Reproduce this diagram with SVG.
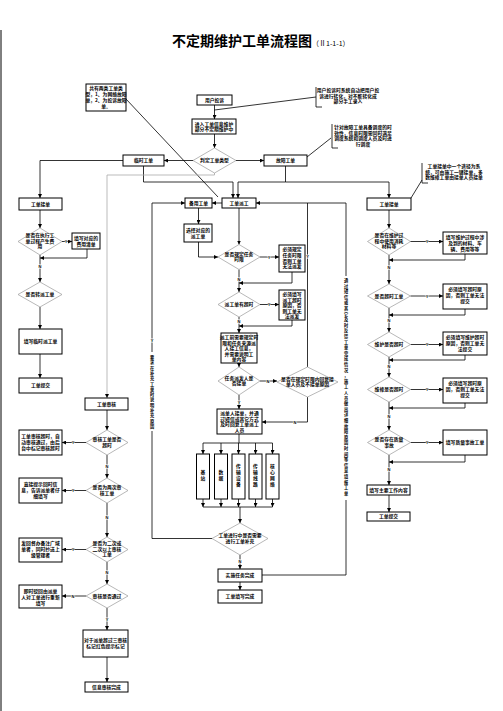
<svg xmlns="http://www.w3.org/2000/svg" width="503" height="711" viewBox="0 0 503 711">
<defs>
<marker id="ah" markerUnits="userSpaceOnUse" markerWidth="4" markerHeight="4" refX="4" refY="2" orient="auto"><path d="M0,0 L4,2 L0,4 z" fill="#000"/></marker>
<style>
.box{fill:#fff;stroke:#000;stroke-width:1}
.dia{fill:#fff;stroke:#999;stroke-width:0.7}
.ln{fill:none;stroke:#000;stroke-width:0.8}
.gl{fill:none;stroke:#aaa;stroke-width:0.8}
.t{font-family:"Noto Sans CJK SC","Noto Sans CJK JP",sans-serif;font-size:4.8px;font-weight:bold;text-anchor:middle;fill:#000}
.v{font-family:"Noto Sans CJK SC","Noto Sans CJK JP",sans-serif;font-size:4.2px;font-weight:bold;text-anchor:middle;fill:#000}
.lb{font-family:"Liberation Sans",sans-serif;font-size:4px;font-weight:bold;text-anchor:middle;fill:#000;stroke:#fff;stroke-width:1.2px;paint-order:stroke}
</style>
</defs>
<rect width="503" height="711" fill="#fff"/>
<line x1="1" y1="30" x2="1" y2="711" stroke="#000" stroke-width="1"/>
<g id="title">
<text x="172" y="46" style="font-family:'Noto Sans CJK SC',sans-serif;font-size:14px;font-weight:bold;fill:#000">不定期维护工单流程图<tspan style="font-size:7px;font-weight:normal">（Ⅱ1-1-1）</tspan></text>
</g>

<g id="connectors">
<line class="ln" x1="214.5" y1="105" x2="214.5" y2="119" marker-end="url(#ah)"/>
<line class="ln" x1="214.5" y1="134" x2="214.5" y2="148" marker-end="url(#ah)"/>
<line class="ln" x1="193" y1="160.5" x2="164" y2="160.5" marker-end="url(#ah)"/>
<line class="ln" x1="236" y1="160.5" x2="264" y2="160.5" marker-end="url(#ah)"/>
<line class="ln" x1="126" y1="99" x2="218" y2="197" stroke-width="0.6"/>
<line class="ln" x1="214.5" y1="110" x2="316" y2="97" stroke-width="0.6"/>
<line class="ln" x1="307" y1="157" x2="331" y2="138" stroke-width="0.6"/>
<line class="ln" x1="422" y1="180" x2="411" y2="198" stroke-width="0.6"/>
<polyline class="ln" points="123,160.5 40,160.5 40,198" marker-end="url(#ah)"/>
<polyline class="ln" points="143.5,166 143.5,182 233,182 233,198" marker-end="url(#ah)"/>
<polyline class="ln" points="285.5,166 285.5,182 238,182 238,198" marker-end="url(#ah)"/>
<polyline class="ln" points="285.5,182 389,182 389,198" marker-end="url(#ah)"/>
<polyline class="gl" points="214.5,173 214.5,175 107,175 107,398" marker-end="url(#ah)"/>
<line class="ln" x1="40" y1="210" x2="40" y2="228" marker-end="url(#ah)"/>
<line class="ln" x1="62" y1="241.5" x2="72" y2="241.5" marker-end="url(#ah)"/>
<polyline class="ln" points="87,249 87,258 40,258" marker-end="url(#ah)"/>
<line class="ln" x1="40" y1="255" x2="40" y2="282" marker-end="url(#ah)"/>
<line class="ln" x1="40" y1="307" x2="40" y2="329" marker-end="url(#ah)"/>
<line class="ln" x1="40" y1="354" x2="40" y2="378" marker-end="url(#ah)"/>
<line class="ln" x1="107" y1="410" x2="107" y2="430" marker-end="url(#ah)"/>
<line class="ln" x1="86" y1="442.5" x2="62" y2="442.5" marker-end="url(#ah)"/>
<line class="ln" x1="107" y1="455" x2="107" y2="478" marker-end="url(#ah)"/>
<line class="ln" x1="86" y1="490.5" x2="62" y2="490.5" marker-end="url(#ah)"/>
<line class="ln" x1="107" y1="503" x2="107" y2="537" marker-end="url(#ah)"/>
<line class="ln" x1="86" y1="549.5" x2="62" y2="549.5" marker-end="url(#ah)"/>
<line class="ln" x1="107" y1="562" x2="107" y2="584" marker-end="url(#ah)"/>
<line class="ln" x1="86" y1="596" x2="62" y2="596" marker-end="url(#ah)"/>
<line class="ln" x1="107" y1="608" x2="107" y2="630" marker-end="url(#ah)"/>
<line class="ln" x1="107" y1="657" x2="107" y2="682" marker-end="url(#ah)"/>
<line class="ln" x1="222" y1="203" x2="212" y2="203" marker-end="url(#ah)"/>
<line class="ln" x1="198.5" y1="208" x2="198.5" y2="224" marker-end="url(#ah)"/>
<polyline class="ln" points="198.5,242 198.5,257 218,257" marker-end="url(#ah)"/>
<line class="ln" x1="239" y1="208" x2="239" y2="244.5" marker-end="url(#ah)"/>
<line class="ln" x1="260" y1="257" x2="279" y2="257" marker-end="url(#ah)"/>
<polyline class="ln" points="292,272 292,283 239,283" marker-end="url(#ah)"/>
<line class="ln" x1="239" y1="269.5" x2="239" y2="292" marker-end="url(#ah)"/>
<line class="ln" x1="260" y1="304.5" x2="279" y2="304.5" marker-end="url(#ah)"/>
<polyline class="ln" points="292,320 292,326 239,326" marker-end="url(#ah)"/>
<line class="ln" x1="239" y1="317" x2="239" y2="333" marker-end="url(#ah)"/>
<line class="ln" x1="239" y1="363" x2="239" y2="367" marker-end="url(#ah)"/>
<line class="ln" x1="260" y1="381" x2="277" y2="381" marker-end="url(#ah)"/>
<polyline class="ln" points="307.5,367 307.5,203"/>
<polyline class="ln" points="307.5,397 307.5,422 262,422" marker-end="url(#ah)"/>
<line class="ln" x1="239" y1="395" x2="239" y2="409" marker-end="url(#ah)"/>
<line class="ln" x1="239" y1="434" x2="239" y2="443"/>
<line class="ln" x1="203" y1="443" x2="272.5" y2="443"/>
<line class="ln" x1="203" y1="443" x2="203" y2="454" marker-end="url(#ah)"/>
<line class="ln" x1="221" y1="443" x2="221" y2="454" marker-end="url(#ah)"/>
<line class="ln" x1="238.5" y1="443" x2="238.5" y2="454" marker-end="url(#ah)"/>
<line class="ln" x1="255.5" y1="443" x2="255.5" y2="454" marker-end="url(#ah)"/>
<line class="ln" x1="272.5" y1="443" x2="272.5" y2="454" marker-end="url(#ah)"/>
<line class="ln" x1="203" y1="499" x2="203" y2="507" marker-end="url(#ah)"/>
<line class="ln" x1="221" y1="499" x2="221" y2="507" marker-end="url(#ah)"/>
<line class="ln" x1="238.5" y1="499" x2="238.5" y2="507" marker-end="url(#ah)"/>
<line class="ln" x1="255.5" y1="499" x2="255.5" y2="507" marker-end="url(#ah)"/>
<line class="ln" x1="272.5" y1="499" x2="272.5" y2="507" marker-end="url(#ah)"/>
<line class="ln" x1="203" y1="507" x2="272.5" y2="507"/>
<line class="ln" x1="240" y1="507" x2="240" y2="523" marker-end="url(#ah)"/>
<polyline class="ln" points="212,538.5 152,538.5 152,431"/>
<polyline class="ln" points="152,352 152,203 185,203" marker-end="url(#ah)"/>
<line class="ln" x1="240" y1="555" x2="240" y2="569" marker-end="url(#ah)"/>
<line class="ln" x1="240" y1="582" x2="240" y2="590" marker-end="url(#ah)"/>
<polyline class="ln" points="262,575 346,575 346,500"/>
<polyline class="ln" points="346,276 346,203 256,203" marker-end="url(#ah)"/>
<line class="ln" x1="389" y1="210" x2="389" y2="228" marker-end="url(#ah)"/>
<line class="ln" x1="410" y1="241.5" x2="443" y2="241.5" marker-end="url(#ah)"/>
<polyline class="ln" points="465,254 465,260 389,260" marker-end="url(#ah)"/>
<line class="ln" x1="389" y1="255" x2="389" y2="284" marker-end="url(#ah)"/>
<line class="ln" x1="410.5" y1="296" x2="443" y2="296" marker-end="url(#ah)"/>
<polyline class="ln" points="465,309 465,315 389,315" marker-end="url(#ah)"/>
<line class="ln" x1="389" y1="308" x2="389" y2="332" marker-end="url(#ah)"/>
<line class="ln" x1="410.5" y1="344.5" x2="443" y2="344.5" marker-end="url(#ah)"/>
<polyline class="ln" points="465,355 465,360 389,360" marker-end="url(#ah)"/>
<line class="ln" x1="389" y1="357" x2="389" y2="377" marker-end="url(#ah)"/>
<line class="ln" x1="410.5" y1="389.5" x2="443" y2="389.5" marker-end="url(#ah)"/>
<polyline class="ln" points="465,403 465,408 389,408" marker-end="url(#ah)"/>
<line class="ln" x1="389" y1="402" x2="389" y2="430" marker-end="url(#ah)"/>
<line class="ln" x1="410.5" y1="442.5" x2="443" y2="442.5" marker-end="url(#ah)"/>
<polyline class="ln" points="465,455 465,462 389,462" marker-end="url(#ah)"/>
<line class="ln" x1="389" y1="455" x2="389" y2="485" marker-end="url(#ah)"/>
<line class="ln" x1="389" y1="495" x2="389" y2="512" marker-end="url(#ah)"/>
<text class="lb" x="66" y="243">Y</text>
<text class="lb" x="40" y="268">N</text>
<text class="lb" x="73" y="444">Y</text>
<text class="lb" x="107" y="468">N</text>
<text class="lb" x="73" y="492">Y</text>
<text class="lb" x="107" y="519">N</text>
<text class="lb" x="73" y="551">Y</text>
<text class="lb" x="107" y="574">N</text>
<text class="lb" x="73" y="597.5">N</text>
<text class="lb" x="107" y="621">Y</text>
<text class="lb" x="269" y="258.5">Y</text>
<text class="lb" x="239" y="281">N</text>
<text class="lb" x="269" y="306">Y</text>
<text class="lb" x="239" y="323">N</text>
<text class="lb" x="268" y="382.5">N</text>
<text class="lb" x="307.5" y="258">Y</text>
<text class="lb" x="295" y="423.5">N</text>
<text class="lb" x="239" y="404">Y</text>
<text class="lb" x="240" y="563">N</text>
<text class="lb" x="152" y="342">Y</text>
<text class="lb" x="427" y="243">Y</text>
<text class="lb" x="389" y="269">N</text>
<text class="lb" x="427" y="297.5">Y</text>
<text class="lb" x="389" y="322">N</text>
<text class="lb" x="427" y="346">Y</text>
<text class="lb" x="389" y="368">N</text>
<text class="lb" x="427" y="391">Y</text>
<text class="lb" x="389" y="418">N</text>
<text class="lb" x="427" y="444">Y</text>
<text class="lb" x="389" y="471">N</text>
<text class="v" x="152" y="359"><tspan x="152">要</tspan><tspan x="152" dy="5.3">求</tspan><tspan x="152" dy="5.3">在</tspan><tspan x="152" dy="5.3">补</tspan><tspan x="152" dy="5.3">充</tspan><tspan x="152" dy="5.3">工</tspan><tspan x="152" dy="5.3">单</tspan><tspan x="152" dy="5.3">时</tspan><tspan x="152" dy="5.3">说</tspan><tspan x="152" dy="5.3">明</tspan><tspan x="152" dy="5.3">补</tspan><tspan x="152" dy="5.3">充</tspan><tspan x="152" dy="5.3">原</tspan><tspan x="152" dy="5.3">因</tspan></text>
<text class="v" x="346" y="282"><tspan x="346">通</tspan><tspan x="346" dy="5.6">过</tspan><tspan x="346" dy="5.6">短</tspan><tspan x="346" dy="5.6">信</tspan><tspan x="346" dy="5.6">或</tspan><tspan x="346" dy="5.6">其</tspan><tspan x="346" dy="5.6">它</tspan><tspan x="346" dy="5.6">及</tspan><tspan x="346" dy="5.6">时</tspan><tspan x="346" dy="5.6">反</tspan><tspan x="346" dy="5.6">馈</tspan><tspan x="346" dy="5.6">工</tspan><tspan x="346" dy="5.6">单</tspan><tspan x="346" dy="5.6">完</tspan><tspan x="346" dy="5.6">成</tspan><tspan x="346" dy="5.6">情</tspan><tspan x="346" dy="5.6">况</tspan><tspan x="346" dy="5.6">，</tspan><tspan x="346" dy="5.6">施</tspan><tspan x="346" dy="5.6">工</tspan><tspan x="346" dy="5.6">人</tspan><tspan x="346" dy="5.6">员</tspan><tspan x="346" dy="5.6">做</tspan><tspan x="346" dy="5.6">出</tspan><tspan x="346" dy="5.6">详</tspan><tspan x="346" dy="5.6">细</tspan><tspan x="346" dy="5.6">故</tspan><tspan x="346" dy="5.6">障</tspan><tspan x="346" dy="5.6">原</tspan><tspan x="346" dy="5.6">因</tspan><tspan x="346" dy="5.6">时</tspan><tspan x="346" dy="5.6">间</tspan><tspan x="346" dy="5.6">等</tspan><tspan x="346" dy="5.6">信</tspan><tspan x="346" dy="5.6">息</tspan><tspan x="346" dy="5.6">填</tspan><tspan x="346" dy="5.6">报</tspan><tspan x="346" dy="5.6">工</tspan><tspan x="346" dy="5.6">单</tspan></text>
</g>

<g id="note-types"><rect class="box" x="86" y="84" width="40" height="27"/><text class="t"><tspan x="106" y="90">共有两类工单类</tspan><tspan x="106" y="96">型，1、为网络故障</tspan><tspan x="106" y="102">单，2、为投诉故障</tspan><tspan x="106" y="108">单。</tspan></text></g>
<g id="note-complaint"><path class="ln" d="M316,87 V107 H322"/><text class="t"><tspan x="348" y="92">用户投诉时系统自动把用户投</tspan><tspan x="348" y="97.5">诉进行转化，对不能转化成</tspan><tspan x="348" y="103">部分手工录入</tspan></text></g>
<g id="note-fault"><path class="ln" d="M332,124 V148 H338"/><text class="t"><tspan x="363" y="129">针对故障工单具备调度的时</tspan><tspan x="363" y="134.5">效性，信息时限需同时满足</tspan><tspan x="363" y="140">调度系统和调度人员及时进</tspan><tspan x="363" y="145.5">行调度</tspan></text></g>
<g id="note-accept"><path class="ln" d="M422,163 V183 H428"/><text class="t"><tspan x="454" y="168">工单接单中一个途径为系</tspan><tspan x="454" y="173.5">统，可由施工一键接单，多</tspan><tspan x="454" y="179">数维修工单由接单人员接单</tspan></text></g>

<g id="n-user"><rect class="box" x="197" y="95" width="35" height="10"/><text class="t" x="214.5" y="101.8">用户投诉</text></g>
<g id="n-enter"><rect class="box" x="192" y="119" width="44" height="15"/><text class="t"><tspan x="214" y="125.5">进入工单信息维护</tspan><tspan x="214" y="131">部分不定期维护中</tspan></text></g>
<g id="d-type"><polygon class="dia" points="214.5,148 236,160.5 214.5,173 193,160.5"/><text class="t" x="214.5" y="162.2">判定工单类型</text></g>
<g id="n-temp"><rect class="box" x="123" y="155" width="41" height="11"/><text class="t" x="143.5" y="162.2">临时工单</text></g>
<g id="n-fault"><rect class="box" x="264" y="155" width="43" height="11"/><text class="t" x="285.5" y="162.2">故障工单</text></g>

<g id="n-accept-l"><rect class="box" x="19" y="198" width="43" height="12"/><text class="t" x="40.5" y="205.8">工单接单</text></g>
<g id="d-cost"><polygon class="dia" points="40,228 62,241.5 40,255 18,241.5"/><text class="t"><tspan x="40" y="237">是否在执行工</tspan><tspan x="40" y="242.5">单过程产生费</tspan><tspan x="40" y="248">用</tspan></text></g>
<g id="n-cost"><rect class="box" x="72" y="233" width="28" height="16"/><text class="t"><tspan x="86" y="240">填写对应的</tspan><tspan x="86" y="245.5">费用清单</tspan></text></g>
<g id="d-transfer"><polygon class="dia" points="40,282 62,294.5 40,307 18,294.5"/><text class="t" x="40" y="296.2">是否转派工单</text></g>
<g id="n-tempform"><rect class="box" x="19" y="329" width="43" height="25"/><text class="t" x="40.5" y="343.2">填写临时派工单</text></g>
<g id="n-submit-l"><rect class="box" x="19" y="378" width="43" height="15"/><text class="t" x="40.5" y="387.2">工单提交</text></g>

<g id="n-audit"><rect class="box" x="85" y="398" width="43" height="12"/><text class="t" x="106.5" y="405.8">工单审核</text></g>
<g id="d-audit-timeout"><polygon class="dia" points="107,430 128,442.5 107,455 86,442.5"/><text class="t"><tspan x="107" y="441">审核工单是否</tspan><tspan x="107" y="446.5">超时</tspan></text></g>
<g id="n-audit-timeout"><rect class="box" x="19" y="430" width="43" height="25"/><text class="t"><tspan x="40.5" y="437.5">工单审核超时，自</tspan><tspan x="40.5" y="443.5">动审核通过，由后</tspan><tspan x="40.5" y="449.5">台中标记审核超时</tspan></text></g>
<g id="d-twice"><polygon class="dia" points="107,478 128,490.5 107,503 86,490.5"/><text class="t"><tspan x="107" y="489">是否为两次审</tspan><tspan x="107" y="494.5">核工单</tspan></text></g>
<g id="n-twice"><rect class="box" x="19" y="478" width="43" height="25"/><text class="t"><tspan x="40.5" y="485.5">直接提示回时信</tspan><tspan x="40.5" y="491.5">息，告诉派单者仔</tspan><tspan x="40.5" y="497.5">细填写</tspan></text></g>
<g id="d-second"><polygon class="dia" points="107,537 128,549.5 107,562 86,549.5"/><text class="t"><tspan x="107" y="545">是否为二次或</tspan><tspan x="107" y="550.5">二次以上审核</tspan><tspan x="107" y="556">工单</tspan></text></g>
<g id="n-second"><rect class="box" x="19" y="538" width="43" height="24"/><text class="t"><tspan x="40.5" y="545">发回督办备注广域</tspan><tspan x="40.5" y="551">单者，同时抄送上</tspan><tspan x="40.5" y="557">级管理者</tspan></text></g>
<g id="d-pass"><polygon class="dia" points="107,584 128,596 107,608 86,596"/><text class="t" x="107" y="597.7">审核是否通过</text></g>
<g id="n-reject"><rect class="box" x="19" y="585" width="43" height="23"/><text class="t"><tspan x="40.5" y="592.5">即时驳回由派单</tspan><tspan x="40.5" y="598.5">人对工单进行重新</tspan><tspan x="40.5" y="604.5">填写</tspan></text></g>
<g id="n-mark"><rect class="box" x="83" y="630" width="45" height="27"/><text class="t"><tspan x="105.5" y="642">对于派单超过三审核</tspan><tspan x="105.5" y="648">标记红色提示标记</tspan></text></g>
<g id="n-audit-done"><rect class="box" x="85" y="682" width="43" height="10"/><text class="t" x="106.5" y="688.8">信息审核完成</text></g>

<g id="n-spare"><rect class="box" x="185" y="198" width="27" height="10"/><text class="t" x="198.5" y="204.8">备用工单</text></g>
<g id="n-dispatch"><rect class="box" x="222" y="198" width="34" height="10"/><text class="t" x="239" y="204.8">工单派工</text></g>
<g id="n-select"><rect class="box" x="184" y="224" width="28" height="18"/><text class="t"><tspan x="198" y="231.5">选择对应的</tspan><tspan x="198" y="237.5">派工单</tspan></text></g>
<g id="d-limit"><polygon class="dia" points="239,244.5 260,257 239,269.5 218,257"/><text class="t"><tspan x="239" y="255.5">是否规定任务</tspan><tspan x="239" y="261">时限</tspan></text></g>
<g id="n-limit"><rect class="box" x="279" y="245" width="26" height="27"/><text class="t"><tspan x="292" y="251">必须规定</tspan><tspan x="292" y="256.8">任务时限</tspan><tspan x="292" y="262.6">否则工单</tspan><tspan x="292" y="268.4">无法派发</tspan></text></g>
<g id="d-overtime"><polygon class="dia" points="239,292 260,304.5 239,317 218,304.5"/><text class="t" x="239" y="306.2">派工单有超时</text></g>
<g id="n-overtime"><rect class="box" x="279" y="290" width="26" height="30"/><text class="t"><tspan x="292" y="296">必须填写</tspan><tspan x="292" y="301.6">派工超时</tspan><tspan x="292" y="307.2">原因，否</tspan><tspan x="292" y="312.8">则工单无</tspan><tspan x="292" y="318.4">法派发</tspan></text></g>
<g id="n-preset"><rect class="box" x="221" y="333" width="36" height="30"/><text class="t"><tspan x="239" y="339">派工前需要规定时</tspan><tspan x="239" y="344.6">限和任务来源派</tspan><tspan x="239" y="350.2">人接工信息，</tspan><tspan x="239" y="355.8">并需要说明工</tspan><tspan x="239" y="361.4">单内容</tspan></text></g>
<g id="d-take"><polygon class="dia" points="239,367 260,381 239,395 218,381"/><text class="t"><tspan x="239" y="379.5">任务派发人是</tspan><tspan x="239" y="385">否接单</tspan></text></g>
<g id="d-reply"><polygon class="dia" points="307.5,367 338,382 307.5,397 277,382"/><text class="t"><tspan x="307.5" y="380.5">是否在规定时限内回复接</tspan><tspan x="307.5" y="386">单人员及不接单原因</tspan></text></g>
<g id="n-taker"><rect class="box" x="217" y="409" width="45" height="25"/><text class="t"><tspan x="239.5" y="415">派单人接单，并通</tspan><tspan x="239.5" y="420.6">过短信或其它方式</tspan><tspan x="239.5" y="426.2">及时回复工单派工</tspan><tspan x="239.5" y="431.8">人员</tspan></text></g>
<g id="n-bs"><rect class="box" x="196.5" y="454" width="13" height="45"/><text class="t"><tspan x="203" y="474">基</tspan><tspan x="203" y="480">站</tspan></text></g>
<g id="n-data"><rect class="box" x="214.5" y="454" width="13" height="45"/><text class="t"><tspan x="221" y="474">数</tspan><tspan x="221" y="480">据</tspan></text></g>
<g id="n-tdev"><rect class="box" x="232" y="454" width="13" height="45"/><text class="t"><tspan x="238.5" y="468">传</tspan><tspan x="238.5" y="474">输</tspan><tspan x="238.5" y="480">设</tspan><tspan x="238.5" y="486">备</tspan></text></g>
<g id="n-tline"><rect class="box" x="249" y="454" width="13" height="45"/><text class="t"><tspan x="255.5" y="468">传</tspan><tspan x="255.5" y="474">输</tspan><tspan x="255.5" y="480">线</tspan><tspan x="255.5" y="486">路</tspan></text></g>
<g id="n-core"><rect class="box" x="266" y="454" width="13" height="45"/><text class="t"><tspan x="272.5" y="468">核</tspan><tspan x="272.5" y="474">心</tspan><tspan x="272.5" y="480">网</tspan><tspan x="272.5" y="486">络</tspan></text></g>
<g id="d-supplement"><polygon class="dia" points="240,523 268,538.5 240,555 212,538.5"/><text class="t"><tspan x="240" y="537">工单进行中是否需要</tspan><tspan x="240" y="542.5">进行工单补充</tspan></text></g>
<g id="n-task-done"><rect class="box" x="218" y="569" width="44" height="13"/><text class="t" x="240" y="577.2">实施任务完成</text></g>
<g id="n-fill-done"><rect class="box" x="218" y="590" width="44" height="13"/><text class="t" x="240" y="598.2">工单填写完成</text></g>

<g id="n-accept-r"><rect class="box" x="367" y="198" width="44" height="12"/><text class="t" x="389" y="205.8">工单接单</text></g>
<g id="d-material"><polygon class="dia" points="389,228 410.5,241.5 389,255 367.5,241.5"/><text class="t"><tspan x="389" y="237">是否在维护过</tspan><tspan x="389" y="242.5">程中使用消耗</tspan><tspan x="389" y="248">材料等</tspan></text></g>
<g id="n-material"><rect class="box" x="443" y="232" width="44" height="22"/><text class="t"><tspan x="465" y="238.5">填写维护过程中涉</tspan><tspan x="465" y="244.5">及到的材料、车</tspan><tspan x="465" y="250.5">辆、费用等等</tspan></text></g>
<g id="d-timeout"><polygon class="dia" points="389,284 410.5,296 389,308 367.5,296"/><text class="t" x="389" y="297.7">是否超时工单</text></g>
<g id="n-timeout"><rect class="box" x="443" y="284" width="44" height="25"/><text class="t"><tspan x="465" y="291">必须填写超时原</tspan><tspan x="465" y="297">因，否则工单无法</tspan><tspan x="465" y="303">提交</tspan></text></g>
<g id="d-maint"><polygon class="dia" points="389,332 410.5,344.5 389,357 367.5,344.5"/><text class="t" x="389" y="346.2">维护是否超时</text></g>
<g id="n-maint"><rect class="box" x="443" y="332" width="44" height="23"/><text class="t"><tspan x="465" y="338.5">必须填写维护超时</tspan><tspan x="465" y="344.5">原因，否则工单无</tspan><tspan x="465" y="350.5">法提交</tspan></text></g>
<g id="d-repair"><polygon class="dia" points="389,377 410.5,389.5 389,402 367.5,389.5"/><text class="t" x="389" y="391.2">维修是否超时</text></g>
<g id="n-repair"><rect class="box" x="443" y="378" width="44" height="25"/><text class="t"><tspan x="465" y="385">必须填写超时原</tspan><tspan x="465" y="391">因，否则工单无法</tspan><tspan x="465" y="397">提交</tspan></text></g>
<g id="d-quality"><polygon class="dia" points="389,430 410.5,442.5 389,455 367.5,442.5"/><text class="t"><tspan x="389" y="441">是否存在质量</tspan><tspan x="389" y="446.5">事故</tspan></text></g>
<g id="n-quality"><rect class="box" x="443" y="430" width="44" height="25"/><text class="t" x="465" y="444.2">填写质量事故工单</text></g>
<g id="n-content"><rect class="box" x="367" y="485" width="43" height="10"/><text class="t" x="388.5" y="491.8">填写主要工作内容</text></g>
<g id="n-submit-r"><rect class="box" x="367" y="512" width="43" height="9"/><text class="t" x="388.5" y="518.3">工单提交</text></g>
</svg>
